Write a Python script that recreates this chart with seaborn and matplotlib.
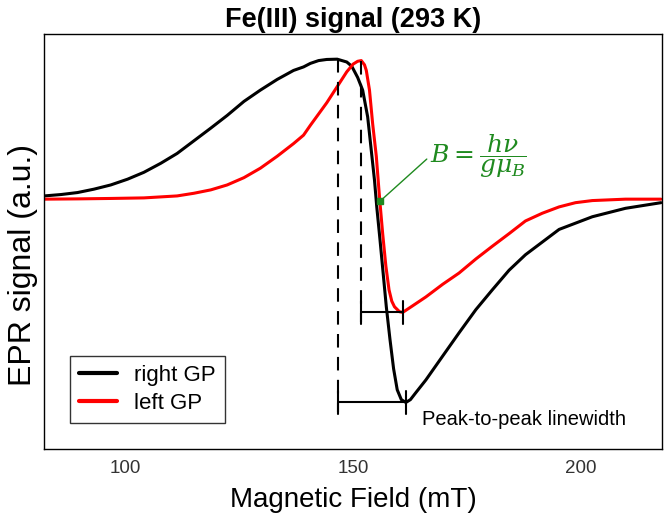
import numpy as np
import pandas as pd
import seaborn as sns
import matplotlib
matplotlib.use('Agg')
import matplotlib.pyplot as plt

# magnetic field (mT) and signal values
field_right = [82.1, 85.8, 89.4, 93.0, 96.7, 100.4, 104.0, 107.7, 111.3, 115.0, 118.7, 122.3, 126.0,
               129.6, 133.3, 136.9, 139.1, 140.6, 142.4, 144.2, 146.5, 148.6, 149.7, 151.0, 152.1, 153.2,
               153.9, 154.7, 155.2, 155.9, 156.6, 157.3, 158.1, 158.9, 159.7, 160.6, 161.6, 162.6, 163.8,
               166.0, 169.7, 173.3, 177.0, 180.6, 184.3, 187.9, 191.6, 195.3, 202.6, 209.9, 217.7]
signal_right = [0.028, 0.038, 0.052, 0.076, 0.106, 0.147, 0.196, 0.26, 0.33, 0.42, 0.51, 0.60, 0.70,
                0.78, 0.856, 0.92, 0.945, 0.97, 0.99, 0.998, 1.0, 0.98, 0.95, 0.87, 0.78, 0.59,
                0.38, 0.14, -0.05, -0.28, -0.52, -0.76, -0.99, -1.2, -1.35, -1.42, -1.44, -1.42, -1.37,
                -1.28, -1.11, -0.945, -0.78, -0.64, -0.50, -0.39, -0.30, -0.21, -0.12, -0.06, -0.02]

field_left = [82.1, 89.4, 96.7, 104.0, 111.3, 115.0, 118.7, 122.3, 126.0, 129.6, 133.3, 136.9, 139.1,
              140.6, 142.4, 144.2, 146.4, 148.6, 150.0, 151.0, 151.8, 152.5, 152.9, 153.6, 154.3, 155.1,
              155.8, 156.5, 157.2, 157.9, 158.5, 159.1, 160.2, 160.9, 163.0, 166.0, 169.7, 173.3, 177.0,
              180.6, 184.3, 187.9, 191.6, 195.3, 198.9, 202.6, 209.9, 217.7]
signal_left = [0.005, 0.007, 0.01, 0.014, 0.028, 0.047, 0.071, 0.106, 0.158, 0.225, 0.31, 0.40, 0.46,
               0.53, 0.61, 0.69, 0.80, 0.91, 0.965, 0.985, 0.99, 0.96, 0.92, 0.78, 0.54, 0.31,
               0.02, -0.24, -0.47, -0.64, -0.72, -0.76, -0.795, -0.80, -0.755, -0.69, -0.60, -0.52, -0.42,
               -0.33, -0.24, -0.15, -0.095, -0.05, -0.02, -0.005, 0.005, 0.005]

# peak positions / peak-to-peak markers
peak_right, trough_right = (146.6, 1.0), (161.6, -1.44)
peak_left, trough_left = (151.8, 0.99), (160.9, -0.80)
dash_ends = [-1.51, -0.87]
resonance = (155.9, -0.01)

df = pd.concat([
    pd.DataFrame({'field': field_right, 'signal': signal_right, 'sample': 'right GP'}),
    pd.DataFrame({'field': field_left, 'signal': signal_left, 'sample': 'left GP'}),
])

sns.set_style('white')
plt.rcParams['font.family'] = ['Liberation Sans', 'DejaVu Sans']
plt.rcParams['mathtext.fontset'] = 'dejavuserif'
plt.rcParams['text.color'] = 'black'
plt.rcParams['axes.labelcolor'] = 'black'

fig = plt.figure(figsize=(6.65, 5.13), dpi=100)
ax = fig.add_axes([0.066, 0.125, 0.93, 0.809])

sns.lineplot(data=df, x='field', y='signal', hue='sample', palette=['black', 'red'],
             linewidth=2.2, sort=False, estimator=None, ax=ax)

# dashed lines from peaks down
for p, end in zip([peak_right, peak_left], dash_ends):
    ax.plot([p[0], p[0]], [p[1], end], color='black', ls=(0, (6.5, 4.5)), lw=1.5)

# peak-to-peak bars
for p, t in [(peak_right, trough_right), (peak_left, trough_left)]:
    ax.plot([p[0], t[0]], [t[1], t[1]], color='black', lw=1.5)
    ax.plot([p[0], p[0]], [t[1] - 0.08, t[1] + 0.08], color='black', lw=1.5)
    ax.plot([t[0], t[0]], [t[1] - 0.08, t[1] + 0.08], color='black', lw=1.5)

green = '#1f8a1f'
ax.plot([resonance[0], 166.2], [resonance[1], 0.29], color=green, lw=1)
ax.plot(*resonance, 's', color=green, ms=5)
ax.text(167.0, 0.31, r'$B=\dfrac{h\nu}{g\mu_B}$', color=green, fontsize=18, va='center')
ax.text(165.2, -1.56, 'Peak-to-peak linewidth', fontsize=14.5, va='center')

ax.set_xlim(82, 218)
ax.set_ylim(-1.77, 1.18)
ax.set_xticks([100, 150, 200])
ax.set_yticks([])
ax.tick_params(axis='x', direction='in', length=4, labelsize=13.5, labelcolor='#333333', pad=8)
for s in ax.spines.values():
    s.set_color('black')
    s.set_linewidth(1)
ax.set_xlabel('Magnetic Field (mT)', fontsize=20, labelpad=7)
ax.set_ylabel('EPR signal (a.u.)', fontsize=23)
ax.yaxis.set_label_coords(-0.01, 0.443)
ax.set_title('Fe(III) signal (293 K)', fontsize=19.5, fontweight='bold', pad=5)

leg = ax.legend(loc='lower left', bbox_to_anchor=(0.042, 0.063), borderaxespad=0, fontsize=16,
                frameon=True, fancybox=False, edgecolor='black', handlelength=1.7, labelspacing=0.3)
leg.get_frame().set_linewidth(1)
for line in leg.get_lines():
    line.set_linewidth(3)

fig.savefig('out.png', dpi=100)
